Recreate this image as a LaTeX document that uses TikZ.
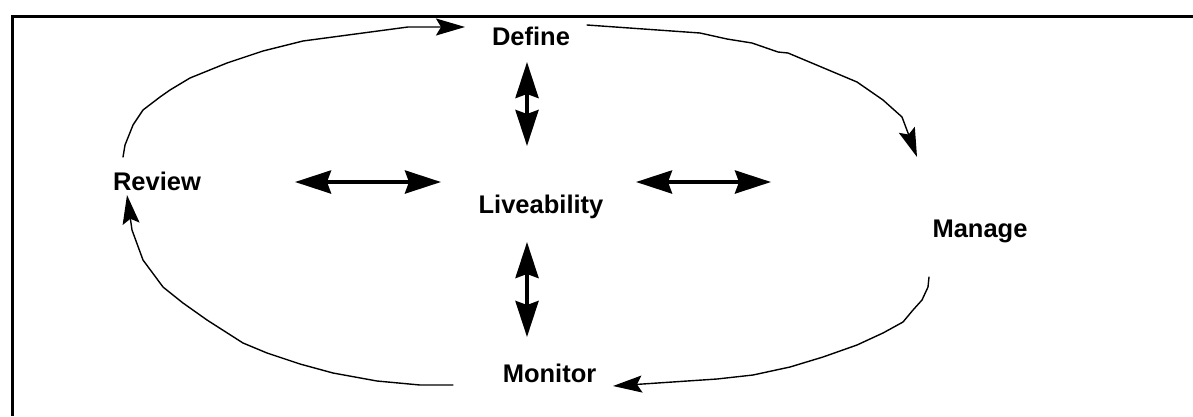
\documentclass[tikz,border=0pt]{standalone}
\usepackage{fontspec}
\setmainfont{Liberation Sans}
\usetikzlibrary{arrows.meta}
\tikzset{
  stage/.style={font=\fontsize{25.5}{30}\selectfont\bfseries, inner sep=0pt, anchor=base},
  bond/.style={line width=4pt,
    {Stealth[length=36pt,width=23pt,inset=4pt]}-{Stealth[length=36pt,width=23pt,inset=4pt]}},
  flow/.style={line width=1.4pt, line join=round, line cap=round,
    -{Stealth[length=29pt,width=17pt,inset=5pt]}},
  frame/.style={line width=3pt, line join=miter}
}
\begin{document}
\begin{tikzpicture}[x=1pt, y=-1pt]
  \useasboundingbox (0,0) rectangle (1193,416);

  % open frame: top and left edges
  \draw[frame] (1193,16.5) -- (12.5,16.5) -- (12.5,416);

  % stage labels
  \node[stage] (define)  at (531,45)  {Define};
  \node[stage] (live)    at (541,213) {Liveability};
  \node[stage] (review)  at (157,190) {Review};
  \node[stage] (manage)  at (980,237) {Manage};
  \node[stage] (monitor) at (549.5,382) {Monitor};

  % end points of the two-way links around the centre
  \coordinate (up-a)    at (527,62);
  \coordinate (up-b)    at (527,146);
  \coordinate (down-a)  at (527,242);
  \coordinate (down-b)  at (527,337);
  \coordinate (left-a)  at (295,182);
  \coordinate (left-b)  at (441,182);
  \coordinate (right-a) at (636,182);
  \coordinate (right-b) at (771,182);

  \draw[bond] (up-a) -- (up-b);
  \draw[bond] (down-a) -- (down-b);
  \draw[bond] (left-a) -- (left-b);
  \draw[bond] (right-a) -- (right-b);

  % end points of the outer cycle
  \coordinate (rev-out) at (123,157);
  \coordinate (def-in)  at (465,27);
  \coordinate (def-out) at (587,25);
  \coordinate (man-in)  at (917,157);
  \coordinate (man-out) at (929,277);
  \coordinate (mon-in)  at (613,386);
  \coordinate (mon-out) at (453,385);
  \coordinate (rev-in)  at (127,195);

  % Review -> Define
  \draw[flow] plot coordinates {(rev-out) (125,145) (133,125) (143,110) (160,97)
    (170,90) (190,78) (227,63) (263,51) (303,41) (408,27) (def-in)};
  % Define -> Manage
  \draw[flow] plot coordinates {(def-out) (700,33) (727,39) (752,43) (778,52)
    (788,53) (857,82) (883,100) (902,117) (man-in)};
  % Manage -> Monitor
  \draw[flow] plot coordinates {(man-out) (928,287) (922,300) (913,310) (903,322)
    (883,333) (857,345) (823,357) (790,367) (753,375) (717,379) (mon-in)};
  % Monitor -> Review
  \draw[flow] plot coordinates {(mon-out) (420,385) (377,381) (333,373) (300,364)
    (267,353) (243,343) (207,320) (183,303) (163,287) (143,260) (132,230) (rev-in)};
\end{tikzpicture}
\end{document}
